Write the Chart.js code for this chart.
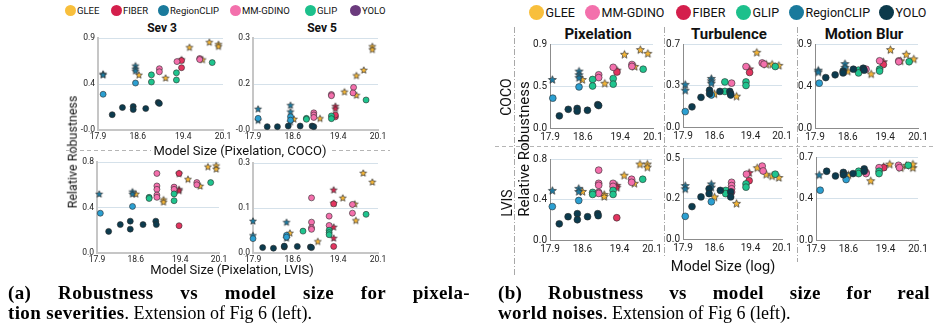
<!DOCTYPE html>
<html>
<head>
<meta charset="utf-8">
<script src="https://cdn.jsdelivr.net/npm/chart.js@4.4.0/dist/chart.umd.min.js"></script>
<style>
  body { margin: 0; background: #fff; }
  #fig { position: relative; width: 935px; height: 333px; overflow: hidden; font-family: Roboto, "Liberation Sans", sans-serif; color: #111; }
  #fig div { position: absolute; white-space: nowrap; }
  #fig canvas { position: absolute; }
  .cap { font-family: "Liberation Serif", serif; font-size: 18px; line-height: 18px; color: #000; }
  .cap b { font-size: 19px; letter-spacing: 0.35px; }
</style>
</head>
<body>
<div id="fig"></div>
<script>
// ---- data: [series, log model size, relative robustness] ----
const sev3Coco = [
  ['rclipStar', 17.99, 0.55], ['rclipStar', 17.99, 0.54], ['rclipStar', 18.56, 0.63], ['rclipStar', 18.56, 0.60], ['rclipStar', 18.56, 0.58],
  ['rclip', 17.99, 0.35], ['rclip', 18.56, 0.46],
  ['gleeStar', 18.62, 0.54], ['gleeStar', 19.09, 0.51], ['gleeStar', 19.51, 0.81], ['gleeStar', 19.74, 0.69], ['gleeStar', 19.86, 0.86], ['gleeStar', 20.02, 0.84], ['gleeStar', 20.02, 0.82],
  ['yolo', 18.15, 0.15], ['yolo', 18.33, 0.22], ['yolo', 18.52, 0.23], ['yolo', 18.52, 0.20], ['yolo', 18.74, 0.21], ['yolo', 18.96, 0.27], ['yolo', 18.98, 0.26],
  ['glip', 18.84, 0.54], ['glip', 18.84, 0.47], ['glip', 19.28, 0.56], ['glip', 19.28, 0.49], ['glip', 19.91, 0.66],
  ['mmgdino', 18.98, 0.60], ['mmgdino', 18.98, 0.57], ['mmgdino', 19.29, 0.67], ['mmgdino', 19.69, 0.70], ['mmgdino', 19.69, 0.69],
  ['fiber', 19.37, 0.68], ['fiber', 19.37, 0.61], ['fiberStar', 19.37, 0.69]
];
const sev5Coco = [
  ['rclipStar', 17.99, 0.069], ['rclipStar', 17.99, 0.032], ['rclipStar', 18.56, 0.081], ['rclipStar', 18.56, 0.060], ['rclipStar', 18.56, 0.027],
  ['rclip', 17.99, 0.038], ['rclip', 18.56, 0.043], ['rclip', 18.56, 0.032],
  ['gleeStar', 18.62, 0.036], ['gleeStar', 19.08, 0.038], ['gleeStar', 19.51, 0.125], ['gleeStar', 19.72, 0.114], ['gleeStar', 19.72, 0.178], ['gleeStar', 19.85, 0.196], ['gleeStar', 20.0, 0.273], ['gleeStar', 20.0, 0.263],
  ['yolo', 18.15, 0.011], ['yolo', 18.33, 0.011], ['yolo', 18.52, 0.013], ['yolo', 18.73, 0.013], ['yolo', 18.94, 0.013], ['yolo', 18.97, 0.011],
  ['glip', 18.84, 0.038], ['glip', 18.84, 0.035], ['glip', 19.28, 0.046], ['glip', 19.28, 0.037], ['glip', 19.89, 0.098],
  ['mmgdino', 18.97, 0.056], ['mmgdino', 18.97, 0.049], ['mmgdino', 18.97, 0.041], ['mmgdino', 19.28, 0.116], ['mmgdino', 19.28, 0.112], ['mmgdino', 19.67, 0.139], ['mmgdino', 19.66, 0.121],
  ['fiber', 19.35, 0.043], ['fiber', 19.35, 0.049], ['fiberStar', 19.35, 0.078], ['fiberStar', 19.35, 0.070]
];
const sev3Lvis = [
  ['rclipStar', 17.94, 0.52], ['rclipStar', 18.54, 0.54], ['rclipStar', 18.54, 0.52],
  ['rclip', 17.96, 0.35], ['rclip', 18.54, 0.41],
  ['gleeStar', 18.60, 0.52], ['gleeStar', 19.10, 0.47], ['gleeStar', 19.10, 0.45], ['gleeStar', 19.54, 0.65], ['gleeStar', 19.76, 0.59], ['gleeStar', 19.90, 0.76], ['gleeStar', 20.05, 0.77], ['gleeStar', 20.05, 0.74],
  ['yolo', 18.11, 0.19], ['yolo', 18.32, 0.25], ['yolo', 18.50, 0.28], ['yolo', 18.50, 0.21], ['yolo', 18.73, 0.25], ['yolo', 18.96, 0.28], ['yolo', 18.97, 0.25],
  ['glip', 18.84, 0.49], ['glip', 18.84, 0.48], ['glip', 19.29, 0.52], ['glip', 19.29, 0.46], ['glip', 19.95, 0.62],
  ['mmgdino', 18.98, 0.70], ['mmgdino', 18.98, 0.59], ['mmgdino', 18.98, 0.56], ['mmgdino', 18.98, 0.51], ['mmgdino', 18.98, 0.49], ['mmgdino', 19.29, 0.58], ['mmgdino', 19.29, 0.56], ['mmgdino', 19.70, 0.62], ['mmgdino', 19.70, 0.60],
  ['fiber', 19.38, 0.24], ['fiber', 19.38, 0.70], ['fiberStar', 19.38, 0.70], ['fiberStar', 19.38, 0.56], ['fiberStar', 19.38, 0.55]
];
const sev5Lvis = [
  ['rclipStar', 17.90, 0.107], ['rclipStar', 17.90, 0.059], ['rclipStar', 18.49, 0.103], ['rclipStar', 18.49, 0.050],
  ['rclip', 17.90, 0.048], ['rclip', 18.49, 0.059], ['rclip', 18.49, 0.053],
  ['gleeStar', 18.55, 0.067], ['gleeStar', 19.04, 0.039], ['gleeStar', 19.48, 0.184], ['gleeStar', 19.69, 0.164], ['gleeStar', 19.71, 0.109], ['gleeStar', 19.84, 0.267], ['gleeStar', 20.0, 0.237],
  ['yolo', 18.07, 0.018], ['yolo', 18.26, 0.016], ['yolo', 18.45, 0.020], ['yolo', 18.45, 0.023], ['yolo', 18.68, 0.022], ['yolo', 18.91, 0.020], ['yolo', 18.93, 0.018],
  ['glip', 18.78, 0.073], ['glip', 19.24, 0.076], ['glip', 19.24, 0.068], ['glip', 19.24, 0.061], ['glip', 19.89, 0.129],
  ['mmgdino', 18.93, 0.184], ['mmgdino', 18.93, 0.103], ['mmgdino', 18.93, 0.084], ['mmgdino', 18.93, 0.079], ['mmgdino', 19.24, 0.123], ['mmgdino', 19.24, 0.092], ['mmgdino', 19.65, 0.162], ['mmgdino', 19.65, 0.133],
  ['fiber', 19.32, 0.164], ['fiber', 19.32, 0.022], ['fiberStar', 19.32, 0.211], ['fiberStar', 19.32, 0.167], ['fiberStar', 19.32, 0.087], ['fiberStar', 19.32, 0.050]
];
const pixCoco = [
  ['rclipStar', 17.95, 0.52], ['rclipStar', 18.52, 0.61], ['rclipStar', 18.52, 0.57], ['rclipStar', 18.52, 0.54],
  ['rclip', 17.96, 0.32], ['rclip', 18.52, 0.44],
  ['gleeStar', 18.59, 0.52], ['gleeStar', 19.07, 0.48], ['gleeStar', 19.49, 0.79], ['gleeStar', 19.71, 0.66], ['gleeStar', 19.83, 0.84], ['gleeStar', 19.99, 0.80],
  ['yolo', 18.10, 0.13], ['yolo', 18.29, 0.20], ['yolo', 18.48, 0.21], ['yolo', 18.48, 0.18], ['yolo', 18.70, 0.19], ['yolo', 18.92, 0.25], ['yolo', 18.94, 0.24],
  ['glip', 18.81, 0.52], ['glip', 18.81, 0.45], ['glip', 19.25, 0.53], ['glip', 19.25, 0.47], ['glip', 19.89, 0.63],
  ['mmgdino', 18.94, 0.57], ['mmgdino', 18.94, 0.54], ['mmgdino', 19.25, 0.65], ['mmgdino', 19.65, 0.68], ['mmgdino', 19.65, 0.66],
  ['fiber', 19.33, 0.60], ['fiberStar', 19.33, 0.62]
];
const turbCoco = [
  ['rclipStar', 17.95, 0.36], ['rclipStar', 17.95, 0.31], ['rclipStar', 18.53, 0.41], ['rclipStar', 18.53, 0.39], ['rclipStar', 18.53, 0.37],
  ['rclip', 17.95, 0.13], ['rclip', 18.53, 0.27],
  ['gleeStar', 18.60, 0.28], ['gleeStar', 19.09, 0.26], ['gleeStar', 19.54, 0.63], ['gleeStar', 19.75, 0.53], ['gleeStar', 19.88, 0.53], ['gleeStar', 20.03, 0.52],
  ['yolo', 18.10, 0.17], ['yolo', 18.30, 0.25], ['yolo', 18.49, 0.31], ['yolo', 18.49, 0.28], ['yolo', 18.72, 0.30], ['yolo', 18.94, 0.30], ['yolo', 18.96, 0.28], ['yolo', 18.96, 0.27],
  ['glip', 18.83, 0.38], ['glip', 18.83, 0.30], ['glip', 19.30, 0.38], ['glip', 19.30, 0.35], ['glip', 19.95, 0.51],
  ['mmgdino', 18.98, 0.37], ['mmgdino', 19.30, 0.51], ['mmgdino', 19.66, 0.54], ['mmgdino', 19.70, 0.53],
  ['fiber', 19.38, 0.46], ['fiberStar', 19.38, 0.49]
];
const blurCoco = [
  ['rclipStar', 17.97, 0.62], ['rclipStar', 17.97, 0.60], ['rclipStar', 18.54, 0.69], ['rclipStar', 18.54, 0.65],
  ['rclip', 17.99, 0.48],
  ['gleeStar', 18.60, 0.61], ['gleeStar', 19.10, 0.58], ['gleeStar', 19.51, 0.84], ['gleeStar', 19.73, 0.72], ['gleeStar', 19.85, 0.79], ['gleeStar', 20.01, 0.74],
  ['yolo', 18.13, 0.54], ['yolo', 18.33, 0.57], ['yolo', 18.50, 0.61], ['yolo', 18.50, 0.59], ['yolo', 18.72, 0.63], ['yolo', 18.93, 0.64], ['yolo', 18.95, 0.62],
  ['glip', 18.83, 0.62], ['glip', 18.83, 0.59], ['glip', 19.28, 0.63], ['glip', 19.28, 0.61], ['glip', 19.91, 0.71],
  ['mmgdino', 18.99, 0.63], ['mmgdino', 19.28, 0.72], ['mmgdino', 19.69, 0.72], ['mmgdino', 19.69, 0.71],
  ['fiber', 19.36, 0.68], ['fiberStar', 19.36, 0.71]
];
const pixLvis = [
  ['rclipStar', 17.95, 0.49], ['rclipStar', 18.52, 0.51], ['rclipStar', 18.52, 0.48],
  ['rclip', 17.95, 0.33], ['rclip', 18.52, 0.39],
  ['gleeStar', 18.60, 0.48], ['gleeStar', 19.07, 0.45], ['gleeStar', 19.07, 0.43], ['gleeStar', 19.50, 0.64], ['gleeStar', 19.72, 0.56], ['gleeStar', 19.84, 0.75], ['gleeStar', 20.0, 0.75], ['gleeStar', 20.0, 0.72],
  ['yolo', 18.10, 0.16], ['yolo', 18.29, 0.23], ['yolo', 18.49, 0.26], ['yolo', 18.49, 0.20], ['yolo', 18.71, 0.23], ['yolo', 18.93, 0.26], ['yolo', 18.94, 0.24],
  ['glip', 18.82, 0.47], ['glip', 18.82, 0.45], ['glip', 19.26, 0.49], ['glip', 19.26, 0.45], ['glip', 19.90, 0.60],
  ['mmgdino', 18.95, 0.69], ['mmgdino', 18.95, 0.56], ['mmgdino', 18.95, 0.54], ['mmgdino', 18.95, 0.47], ['mmgdino', 18.95, 0.46], ['mmgdino', 19.26, 0.56], ['mmgdino', 19.26, 0.53], ['mmgdino', 19.66, 0.60], ['mmgdino', 19.66, 0.57],
  ['fiber', 19.34, 0.22], ['fiberStar', 19.34, 0.54], ['fiberStar', 19.34, 0.52]
];
const turbLvis = [
  ['rclipStar', 17.95, 0.33], ['rclipStar', 17.95, 0.31], ['rclipStar', 18.53, 0.34], ['rclipStar', 18.53, 0.32],
  ['rclip', 17.95, 0.14], ['rclip', 18.53, 0.23],
  ['gleeStar', 18.60, 0.26], ['gleeStar', 19.09, 0.22], ['gleeStar', 19.55, 0.44], ['gleeStar', 19.75, 0.40], ['gleeStar', 19.88, 0.39], ['gleeStar', 20.03, 0.38],
  ['yolo', 18.10, 0.20], ['yolo', 18.30, 0.26], ['yolo', 18.48, 0.31], ['yolo', 18.48, 0.28], ['yolo', 18.73, 0.30], ['yolo', 18.96, 0.29], ['yolo', 18.96, 0.26],
  ['glip', 18.85, 0.30], ['glip', 18.85, 0.28], ['glip', 19.30, 0.34], ['glip', 19.30, 0.32], ['glip', 19.95, 0.40],
  ['mmgdino', 18.98, 0.35], ['mmgdino', 18.98, 0.33], ['mmgdino', 18.98, 0.31], ['mmgdino', 18.98, 0.29], ['mmgdino', 19.31, 0.40], ['mmgdino', 19.66, 0.45], ['mmgdino', 19.68, 0.42],
  ['fiber', 19.37, 0.36], ['fiberStar', 19.37, 0.41]
];
const blurLvis = [
  ['rclipStar', 17.97, 0.55], ['rclipStar', 18.53, 0.56],
  ['rclip', 17.99, 0.42], ['rclip', 18.55, 0.51],
  ['gleeStar', 18.60, 0.55], ['gleeStar', 19.08, 0.50], ['gleeStar', 19.49, 0.64], ['gleeStar', 19.73, 0.61], ['gleeStar', 19.85, 0.63], ['gleeStar', 19.99, 0.61], ['gleeStar', 19.99, 0.64],
  ['yolo', 18.13, 0.58], ['yolo', 18.32, 0.54], ['yolo', 18.49, 0.57], ['yolo', 18.49, 0.55], ['yolo', 18.70, 0.56], ['yolo', 18.94, 0.60], ['yolo', 18.94, 0.58],
  ['glip', 18.82, 0.58], ['glip', 18.82, 0.56], ['glip', 19.26, 0.58], ['glip', 19.26, 0.56], ['glip', 19.89, 0.63],
  ['mmgdino', 18.98, 0.57], ['mmgdino', 18.98, 0.56], ['mmgdino', 19.26, 0.61], ['mmgdino', 19.68, 0.63], ['mmgdino', 19.70, 0.61],
  ['fiber', 19.36, 0.61], ['fiberStar', 19.36, 0.62]
];

// ticks
const X_TICKS = [17.9, 18.6, 19.4, 20.1];
const X_TICK_LABELS = ['17.9', '18.6', '19.4', '20.1'];
const Y_TICKS_SEV3_COCO = [0, 0.45, 0.9], Y_LABELS_SEV3_COCO = ['-0.0', '0.4', '0.9'];
const Y_TICKS_SEV5_COCO = [0, 0.15, 0.3], Y_LABELS_SEV5_COCO = ['-0.0', '0.2', '0.3'];
const Y_TICKS_SEV3_LVIS = [0, 0.4, 0.8], Y_LABELS_SEV3_LVIS = ['0.0', '0.4', '0.8'];
const Y_TICKS_SEV5_LVIS = [0, 0.15, 0.3], Y_LABELS_SEV5_LVIS = ['0.0', '0.1', '0.3'];
const Y_TICKS_PIX_COCO = [0, 0.45, 0.9], Y_LABELS_PIX_COCO = ['0.0', '0.5', '0.9'];
const Y_TICKS_TURB_COCO = [0, 0.35, 0.7], Y_LABELS_TURB_COCO = ['0.0', '0.3', '0.7'];
const Y_TICKS_BLUR_COCO = [0, 0.45, 0.9], Y_LABELS_BLUR_COCO = ['0.0', '0.4', '0.9'];
const Y_TICKS_PIX_LVIS = [0, 0.4, 0.8], Y_LABELS_PIX_LVIS = ['0.0', '0.4', '0.8'];
const Y_TICKS_TURB_LVIS = [0, 0.25, 0.5], Y_LABELS_TURB_LVIS = ['0.0', '0.2', '0.5'];
const Y_TICKS_BLUR_LVIS = [0, 0.35, 0.7], Y_LABELS_BLUR_LVIS = ['0.0', '0.4', '0.7'];

const LEGEND_A = ['GLEE', 'FIBER', 'RegionCLIP', 'MM-GDINO', 'GLIP', 'YOLO'];
const LEGEND_B = ['GLEE', 'MM-GDINO', 'FIBER', 'GLIP', 'RegionCLIP', 'YOLO'];

// ---- styles ----
const SERIES = [
  { key: 'yolo', color: '#0c3b4e' },
  { key: 'rclip', color: '#2b9fd1' },
  { key: 'glip', color: '#1fc48e' },
  { key: 'mmgdino', color: '#f46fac' },
  { key: 'fiber', color: '#e23560' },
  { key: 'rclipStar', color: '#1c7aa1', star: true },
  { key: 'fiberStar', color: '#d4264f', star: true },
  { key: 'gleeStar', color: '#f6b634', star: true }
];
const LEGEND_COLORS = { 'GLEE': '#f8bf3c', 'FIBER': '#d41f4c', 'RegionCLIP': '#1a7a9c', 'MM-GDINO': '#f370ac', 'GLIP': '#1dc08c' };

const fig = document.getElementById('fig');

function starImage(r, fill) {
  const c = document.createElement('canvas');
  const s = Math.ceil(r * 2 + 2);
  c.width = s; c.height = s;
  const g = c.getContext('2d');
  g.translate(s / 2, s / 2 + r * 0.1);
  g.beginPath();
  for (let i = 0; i < 10; i++) {
    const rr = i % 2 === 0 ? r : r * 0.45;
    const a = -Math.PI / 2 + i * Math.PI / 5;
    g.lineTo(rr * Math.cos(a), rr * Math.sin(a));
  }
  g.closePath();
  g.fillStyle = fill; g.fill();
  g.lineWidth = 0.7; g.strokeStyle = '#333'; g.stroke();
  return c;
}

function plot(rows, box, yTicks, yLabels, small) {
  const padL = 30, padT = 8, padR = 16, padB = 18;
  const w = box[2] - box[0] + padL + padR, h = box[3] - box[1] + padT + padB;
  const cv = document.createElement('canvas');
  cv.width = w; cv.height = h;
  cv.style.left = (box[0] - padL) + 'px'; cv.style.top = (box[1] - padT) + 'px';
  cv.style.width = w + 'px'; cv.style.height = h + 'px';
  fig.appendChild(cv);

  const datasets = SERIES.map(s => ({
    data: rows.filter(r => r[0] === s.key).map(r => ({ x: r[1], y: r[2] })),
    pointStyle: s.star ? starImage(small ? 3.6 : 4.2, s.color) : 'circle',
    pointRadius: small ? 3 : 3.4,
    backgroundColor: s.color,
    borderColor: '#2b2b2b',
    borderWidth: 0.6,
    clip: false
  }));
  const tickFont = { family: 'Roboto', size: small ? 8.5 : 10 };
  const border = small ? { color: '#c6c6c6', width: 2 } : { color: '#8c8c8c', width: 1 };

  new Chart(cv, {
    type: 'scatter',
    data: { datasets },
    options: {
      responsive: false, animation: false, events: [],
      layout: { padding: { top: padT, right: padR, left: 0, bottom: 0 } },
      plugins: { legend: { display: false }, tooltip: { enabled: false } },
      scales: {
        x: {
          min: X_TICKS[0], max: X_TICKS[X_TICKS.length - 1],
          afterBuildTicks: s => { s.ticks = X_TICKS.map(v => ({ value: v })); },
          afterFit: s => { s.height = padB; },
          ticks: { callback: (v, i) => X_TICK_LABELS[i], font: tickFont, color: '#222', padding: small ? 2 : 3, maxRotation: 0, autoSkip: false },
          grid: { display: false, drawTicks: false },
          border: border
        },
        y: {
          min: yTicks[0], max: yTicks[yTicks.length - 1],
          afterBuildTicks: s => { s.ticks = yTicks.map(v => ({ value: v })); },
          afterFit: s => { s.width = padL; },
          ticks: { callback: (v, i) => yLabels[i], font: tickFont, color: '#222', padding: 3, autoSkip: false },
          grid: { color: c => c.index === 0 ? 'rgba(0,0,0,0)' : '#d5e1ea', drawTicks: false, lineWidth: 1 },
          border: border
        }
      }
    }
  });
}

function text(str, x, base, size, opt = {}) {
  const d = document.createElement('div');
  d.textContent = str;
  d.style.fontSize = size + 'px';
  d.style.lineHeight = size + 'px';
  d.style.top = (base - 0.84 * size) + 'px';
  d.style.left = x + 'px';
  if (opt.bold) d.style.fontWeight = 'bold';
  if (opt.center) d.style.transform = 'translateX(-50%)';
  fig.appendChild(d);
  return d;
}
function vtext(str, cx, cy, size) {
  const d = document.createElement('div');
  d.textContent = str;
  d.style.fontSize = size + 'px';
  d.style.lineHeight = size + 'px';
  d.style.left = cx + 'px'; d.style.top = cy + 'px';
  d.style.transform = 'translate(-50%,-50%) rotate(-90deg)';
  fig.appendChild(d);
}
function legend(labels, xs, cy, r, size, base, gap, yoloColor) {
  labels.forEach((lab, i) => {
    const dot = document.createElement('div');
    dot.style.cssText = `left:${xs[i] - r}px;top:${cy - r}px;width:${2 * r}px;height:${2 * r}px;border-radius:50%;background:${lab === 'YOLO' ? yoloColor : LEGEND_COLORS[lab]}`;
    fig.appendChild(dot);
    text(lab, xs[i] + gap, base, size);
  });
}

// ---- left panel (a) ----
legend(LEGEND_A, [70, 116, 163, 235, 310, 355], 10.5, 5.5, 9.5, 14, 7, '#6b3a7d');
text('Sev 3', 162, 32, 12, { bold: true, center: true });
text('Sev 5', 322, 32, 12, { bold: true, center: true });
plot(sev3Coco, [98, 38, 223, 130], Y_TICKS_SEV3_COCO, Y_LABELS_SEV3_COCO, true);
plot(sev5Coco, [253, 38, 378, 130], Y_TICKS_SEV5_COCO, Y_LABELS_SEV5_COCO, true);
plot(sev3Lvis, [97, 162, 219, 253], Y_TICKS_SEV3_LVIS, Y_LABELS_SEV3_LVIS, true);
plot(sev5Lvis, [253, 163, 378, 253], Y_TICKS_SEV5_LVIS, Y_LABELS_SEV5_LVIS, true);
text('Model Size (Pixelation, COCO)', 240, 155, 13, { center: true });
text('Model Size (Pixelation, LVIS)', 232, 274, 13, { center: true });
vtext('Relative Robustness', 73, 152, 12.5);

// ---- right panel (b) ----
legend(LEGEND_B, [536, 592, 683, 743, 796, 886], 12, 7.5, 12.5, 17, 9.5, '#0c3a4b');
text('Pixelation', 598, 40, 15, { bold: true, center: true });
text('Turbulence', 729, 40, 15, { bold: true, center: true });
text('Motion Blur', 864, 40, 15, { bold: true, center: true });
plot(pixCoco, [550, 43, 653, 128], Y_TICKS_PIX_COCO, Y_LABELS_PIX_COCO, false);
plot(turbCoco, [683, 43, 782, 127], Y_TICKS_TURB_COCO, Y_LABELS_TURB_COCO, false);
plot(blurCoco, [815, 43, 918, 128], Y_TICKS_BLUR_COCO, Y_LABELS_BLUR_COCO, false);
plot(pixLvis, [550, 158, 652, 240], Y_TICKS_PIX_LVIS, Y_LABELS_PIX_LVIS, false);
plot(turbLvis, [683, 157, 782, 239], Y_TICKS_TURB_LVIS, Y_LABELS_TURB_LVIS, false);
plot(blurLvis, [816, 156, 918, 240], Y_TICKS_BLUR_LVIS, Y_LABELS_BLUR_LVIS, false);
text('Model Size (log)', 723, 272, 14.5, { center: true });
vtext('Relative Robustness', 524, 149, 15);
vtext('COCO', 506, 97, 14);
vtext('LVIS', 507, 203, 14);

// separators
fig.insertAdjacentHTML('beforeend', `
<svg width="935" height="333" style="position:absolute;left:0;top:0" fill="none">
  <g stroke="#b5b5b5" stroke-width="1" stroke-dasharray="4 3">
    <line x1="66" y1="150.5" x2="151" y2="150.5"/>
    <line x1="332" y1="150.5" x2="390" y2="150.5"/>
    <line x1="495" y1="146.5" x2="935" y2="146.5"/>
  </g>
  <g stroke="#a8a8a8" stroke-width="1" stroke-dasharray="6 2 1 2">
    <line x1="514.5" y1="27" x2="514.5" y2="275"/>
    <line x1="664.5" y1="27" x2="664.5" y2="258"/>
    <line x1="797.5" y1="27" x2="797.5" y2="262"/>
  </g>
</svg>`);

// captions
function caption(html, left, top, width) {
  const d = document.createElement('div');
  d.className = 'cap';
  d.innerHTML = html;
  d.style.left = left + 'px'; d.style.top = top + 'px';
  fig.appendChild(d);
  if (width) {
    const natural = d.getBoundingClientRect().width;
    const gaps = (d.textContent.match(/ /g) || []).length;
    d.style.wordSpacing = ((width - natural) / gaps) + 'px';
  }
}
caption('<b>(a) Robustness vs model size for pixela-</b>', 8, 284, 462);
caption('<b>tion severities</b>. Extension of Fig 6 (left).', 8, 304);
caption('<b>(b) Robustness vs model size for real</b>', 498, 284, 432);
caption('<b>world noises</b>. Extension of Fig 6 (left).', 498, 304);
</script>
</body>
</html>
